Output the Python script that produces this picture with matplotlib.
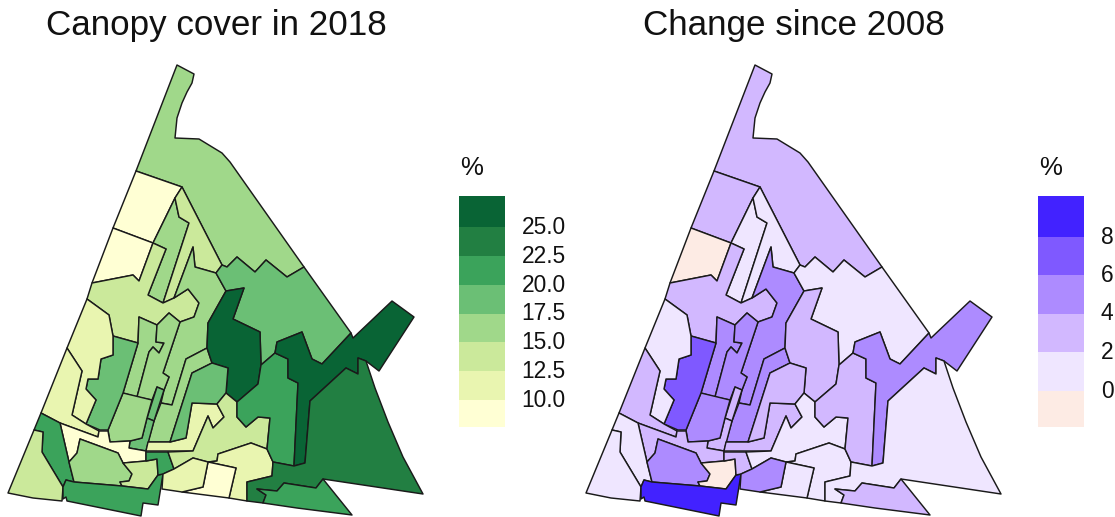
"""Canopy cover by neighbourhood in 2018 and its change since 2008."""

import matplotlib

matplotlib.use("Agg")
import matplotlib.pyplot as plt
from matplotlib.collections import PolyCollection
from matplotlib.colors import BoundaryNorm, ListedColormap

plt.rcParams["font.family"] = ["Liberation Sans", "DejaVu Sans"]

W, H = 1115, 517

top = [(177, 65), (194, 74), (192, 83), (187, 92), (182, 103), (177, 118), (175, 138), (199, 139), (222, 153),
       (230, 162), (304, 267), (287, 277), (266, 260), (255, 272), (237, 257), (227, 267), (222, 265), (182, 187),
       (136, 171)]
north_a = [(136, 171), (182, 187), (175, 198), (153, 243), (113, 228)]
north_b = [(113, 228), (153, 243), (139, 281), (133, 275), (92, 283)]
narrow_a = [(175, 198), (179, 217), (189, 223), (163, 303), (148, 295), (166, 249), (153, 243)]
narrow_b = [(182, 187), (222, 265), (216, 273), (195, 267), (193, 247), (174, 298), (163, 303), (189, 223),
            (179, 217), (175, 198)]
west_wide = [(92, 283), (133, 275), (139, 281), (153, 243), (166, 249), (148, 295), (163, 303), (174, 298), (188, 289),
             (199, 303), (194, 317), (180, 322), (169, 313), (157, 325), (139, 317), (138, 343), (113, 336), (109, 315),
             (87, 299)]
central = [(193, 247), (195, 267), (216, 273), (226, 291), (208, 323), (207, 348), (186, 359), (172, 405), (161, 403),
           (164, 390), (169, 377), (163, 373), (180, 322), (194, 317), (199, 303), (188, 289), (174, 298)]
strip = [(207, 348), (212, 363), (192, 373), (170, 442), (148, 442), (154, 421), (161, 403), (172, 405), (186, 359)]
ne_band = [(222, 265), (227, 267), (237, 257), (255, 272), (266, 260), (287, 277), (304, 267), (351, 333), (322, 364),
           (312, 359), (302, 332), (277, 342), (275, 353), (261, 365), (260, 332), (233, 319), (244, 288), (226, 291),
           (216, 273)]
core = [(226, 291), (244, 288), (233, 319), (260, 332), (261, 365), (258, 384), (237, 402), (226, 393), (228, 368),
        (212, 363), (207, 348), (208, 323)]
tall_a = [(139, 317), (157, 325), (156, 342), (164, 343), (159, 353), (153, 347), (149, 352), (137, 397), (123, 393),
          (138, 343)]
tall_b = [(157, 325), (169, 313), (180, 322), (163, 373), (169, 377), (164, 390), (157, 387), (152, 400), (137, 397),
          (149, 352), (153, 347), (159, 353), (164, 343), (156, 342)]
small_a = [(157, 387), (164, 390), (154, 421), (147, 418)]
small_b = [(147, 418), (154, 421), (146, 451), (129, 448), (130, 441), (142, 438)]
mid_block = [(123, 393), (152, 400), (147, 418), (142, 438), (130, 441), (110, 442), (108, 430)]
west_block = [(113, 336), (138, 343), (123, 393), (108, 430), (100, 430), (86, 424), (96, 400), (86, 389), (88, 379),
              (98, 379), (101, 359), (113, 355)]
west_a = [(87, 299), (109, 315), (113, 336), (113, 355), (101, 359), (98, 379), (88, 379), (86, 389), (96, 400),
          (86, 424), (72, 415), (82, 371), (67, 348)]
west_b = [(67, 348), (82, 371), (72, 415), (86, 424), (99, 431), (98, 437), (60, 423), (41, 413)]
south_pale = [(60, 423), (98, 437), (99, 431), (108, 431), (110, 442), (130, 441), (129, 448), (146, 451), (146, 461),
              (123, 463), (118, 453), (80, 439), (77, 453), (69, 462)]
sw_band = [(41, 413), (60, 423), (69, 462), (74, 482), (66, 480), (63, 487), (42, 452), (43, 432), (34, 430)]
sw_corner = [(34, 430), (43, 432), (42, 452), (63, 487), (62, 501), (33, 498), (8, 493)]
sw_inner = [(80, 439), (118, 453), (123, 463), (132, 474), (129, 481), (120, 482), (122, 486), (74, 482), (69, 462),
            (77, 453)]
sw_notch = [(123, 463), (146, 461), (157, 459), (158, 475), (148, 489), (122, 486), (120, 482), (129, 481), (132, 474)]
south_long = [(66, 480), (74, 482), (122, 486), (148, 489), (158, 475), (163, 474), (158, 505), (143, 503), (141, 516),
              (67, 501), (66, 497), (63, 499), (63, 487)]
south_mid = [(146, 452), (168, 452), (174, 469), (163, 474), (158, 475), (157, 459), (146, 461)]
hook = [(148, 442), (170, 442), (186, 438), (192, 403), (217, 404), (224, 417), (213, 428), (208, 416), (193, 451),
        (146, 451)]
east_mid = [(212, 363), (228, 368), (226, 393), (217, 404), (192, 403), (186, 438), (170, 442), (192, 373)]
basin = [(226, 393), (237, 402), (237, 417), (246, 427), (258, 417), (270, 418), (267, 449), (251, 443), (218, 454),
         (217, 461), (208, 462), (193, 458), (174, 469), (168, 452), (193, 451), (208, 416), (213, 428), (224, 417),
         (217, 404)]
se_block = [(218, 454), (251, 443), (267, 449), (273, 462), (272, 476), (247, 482), (247, 501), (229, 498), (236, 468),
            (208, 462), (217, 461)]
south_pale_b = [(208, 462), (236, 468), (229, 498), (182, 492), (203, 487)]
south_c = [(193, 458), (208, 462), (203, 487), (182, 492), (162, 489), (163, 474), (174, 469)]
east_block = [(275, 353), (288, 359), (288, 378), (298, 383), (294, 466), (273, 462), (267, 449), (270, 418), (258, 417),
              (246, 427), (237, 417), (237, 402), (258, 384), (261, 365)]
arm = [(277, 342), (302, 332), (312, 359), (322, 364), (351, 333), (353, 338), (392, 301), (414, 317), (379, 371),
       (366, 361), (358, 358), (358, 374), (346, 368), (310, 401), (305, 463), (294, 466), (298, 383), (288, 378),
       (288, 359), (275, 353)]
southeast = [(310, 401), (346, 368), (358, 374), (358, 358), (366, 361), (375, 388), (388, 422), (403, 457), (423, 494),
             (323, 479), (316, 488), (284, 483), (277, 491), (257, 489), (266, 495), (263, 503), (247, 501), (247, 482),
             (272, 476), (273, 462), (294, 466), (305, 463)]
south_spit = [(257, 489), (277, 491), (284, 483), (316, 488), (323, 479), (352, 515), (297, 508), (263, 503), (266, 495)]

regions = [top, north_a, north_b, narrow_a, narrow_b, west_wide, central, strip, ne_band, core, tall_a, tall_b,
           small_a, small_b, mid_block, west_block, west_a, west_b, south_pale, sw_band, sw_corner, sw_inner,
           sw_notch, south_long, south_mid, hook, east_mid, basin, se_block, south_pale_b, south_c, east_block,
           arm, southeast, south_spit]

# canopy cover 2018 (%) and change since 2008 (points), same order as regions
cover_2018 = [16, 9, 9, 16, 14, 14, 16, 16, 19, 26, 16, 16, 19, 19, 16, 19, 11, 11, 9, 21, 14, 16, 14, 21, 21, 11, 19,
              14, 11, 9, 11, 21, 26, 24, 21]
change_2008 = [3, 3, -1, 1, 1, 3, 5, 5, 1, 3, 5, 5, 3, 3, 5, 7, 1, 3, 3, 1, 1, 5, -1, 9, 3, 3, 3, 1, 1, 1, 5, 3, 5, 1, 3]

cover_edges = [7.5, 10, 12.5, 15, 17.5, 20, 22.5, 25, 27.5]
cover_colors = ["#ffffd4", "#e9f5b0", "#cbe99b", "#a0d88a", "#6bbf75", "#3ba35b", "#227f42", "#096435"]
cover_ticks = [10, 12.5, 15, 17.5, 20, 22.5, 25]
cover_labels = ["10.0", "12.5", "15.0", "17.5", "20.0", "22.5", "25.0"]

change_edges = [-2, 0, 2, 4, 6, 8, 10]
change_colors = ["#fdebe4", "#efe6ff", "#d2b8ff", "#ad8bff", "#7f59ff", "#4222ff"]
change_ticks = [0, 2, 4, 6, 8]
change_labels = ["0", "2", "4", "6", "8"]


def panel(fig, x0, title, values, edges, colors, ticks, labels, cbar_x):
    ax = fig.add_axes([x0 / W, 0, 430 / W, 1])
    ax.set_xlim(0, 430)
    ax.set_ylim(H, 0)
    ax.axis("off")
    norm = BoundaryNorm(edges, len(colors))
    polys = PolyCollection(regions, array=values, cmap=ListedColormap(colors), norm=norm,
                           edgecolors="#1a1a1a", linewidths=1.05)
    ax.add_collection(polys)
    ax.text(216, 26, title, fontsize=25.2, ha="center", va="center", color="#111111")

    cax = fig.add_axes([cbar_x / W, (H - 427) / H, 46 / W, 231 / H])
    cbar = fig.colorbar(polys, cax=cax, spacing="proportional")
    cbar.set_ticks(ticks, labels=labels)
    cbar.ax.minorticks_off()
    cbar.ax.tick_params(length=0, pad=12, labelsize=16.4, labelcolor="#111111")
    cbar.outline.set_visible(False)
    cbar.solids.set_edgecolor("face")
    ax.text(cbar_x + 13 - x0, 168, "%", fontsize=18.5, ha="center", va="center", color="#111111")


fig = plt.figure(figsize=(W / 100, H / 100), dpi=100)
panel(fig, 0, "Canopy cover in 2018", cover_2018, cover_edges, cover_colors, cover_ticks, cover_labels, 459)
panel(fig, 578, "Change since 2008", change_2008, change_edges, change_colors, change_ticks, change_labels, 1038)
fig.savefig("out.png", dpi=100)
